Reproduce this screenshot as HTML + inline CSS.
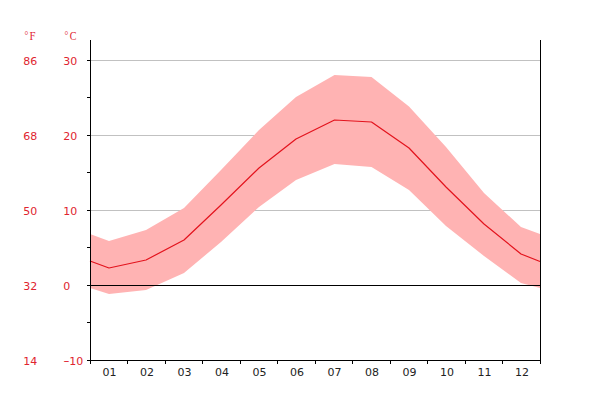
<!DOCTYPE html>
<html>
<head>
<meta charset="utf-8">
<title>Climate chart</title>
<style>
  html, body { margin: 0; padding: 0; background: #ffffff; }
  body { width: 600px; height: 400px; overflow: hidden; }
  svg { display: block; }
  .num { font-family: "DejaVu Sans", "Liberation Sans", sans-serif; font-size: 11px; }
  .hdr { font-family: "Liberation Serif", "DejaVu Serif", serif; font-size: 12px; }
  .red { fill: #e0242f; }
  .blk { fill: #222222; }
</style>
</head>
<body>
<svg width="600" height="400" viewBox="0 0 600 400">
  <rect x="0" y="0" width="600" height="400" fill="#ffffff"/>

  <!-- horizontal grid lines -->
  <g stroke="#c1c1c1" stroke-width="1" shape-rendering="crispEdges">
    <line x1="90" y1="60.5" x2="540" y2="60.5"/>
    <line x1="90" y1="135.5" x2="540" y2="135.5"/>
    <line x1="90" y1="210.5" x2="540" y2="210.5"/>
  </g>

  <!-- temperature range band -->
  <polygon fill="#ffb3b3" points="
    90,234 109,241 146,230 184,208 221,170 259,130 296,97 334.5,75 371.5,77 409,106.5 446,147 484,193 521,227 540,234
    540,288 521,283 484,256 446,226 409,190 371.5,167 334.5,164 296,180 259,207 221,242 184,273 146,290 109,294 90,288"/>

  <!-- mean temperature line -->
  <polyline fill="none" stroke="#e3131d" stroke-width="1.2" stroke-linejoin="round" points="
    90,261 109,268 146,260 184,240 221,205 259,168 296,139 334.5,120 371.5,122 409,148 446,187 484,224 521,254 540,261.5"/>

  <!-- axes -->
  <g stroke="#000000" stroke-width="1" fill="none" shape-rendering="crispEdges">
    <line x1="90.5" y1="40" x2="90.5" y2="361"/>
    <line x1="540.5" y1="40" x2="540.5" y2="361"/>
    <line x1="90" y1="360.5" x2="541" y2="360.5"/>
    <line x1="90" y1="285.5" x2="541" y2="285.5"/>
  </g>

  <!-- y ticks -->
  <g stroke="#000000" stroke-width="1" shape-rendering="crispEdges">
    <line x1="87" y1="60.5" x2="90" y2="60.5"/>
    <line x1="87" y1="97.5" x2="90" y2="97.5"/>
    <line x1="87" y1="135.5" x2="90" y2="135.5"/>
    <line x1="87" y1="172.5" x2="90" y2="172.5"/>
    <line x1="87" y1="210.5" x2="90" y2="210.5"/>
    <line x1="87" y1="247.5" x2="90" y2="247.5"/>
    <line x1="87" y1="285.5" x2="90" y2="285.5"/>
    <line x1="87" y1="322.5" x2="90" y2="322.5"/>
    <line x1="87" y1="360.5" x2="90" y2="360.5"/>
  </g>

  <!-- x ticks -->
  <g stroke="#000000" stroke-width="1" shape-rendering="crispEdges">
    <line x1="90.5" y1="361" x2="90.5" y2="364"/>
    <line x1="127.5" y1="361" x2="127.5" y2="364"/>
    <line x1="165.5" y1="361" x2="165.5" y2="364"/>
    <line x1="202.5" y1="361" x2="202.5" y2="364"/>
    <line x1="240.5" y1="361" x2="240.5" y2="364"/>
    <line x1="277.5" y1="361" x2="277.5" y2="364"/>
    <line x1="315.5" y1="361" x2="315.5" y2="364"/>
    <line x1="352.5" y1="361" x2="352.5" y2="364"/>
    <line x1="390.5" y1="361" x2="390.5" y2="364"/>
    <line x1="427.5" y1="361" x2="427.5" y2="364"/>
    <line x1="465.5" y1="361" x2="465.5" y2="364"/>
    <line x1="502.5" y1="361" x2="502.5" y2="364"/>
    <line x1="540.5" y1="361" x2="540.5" y2="364"/>
  </g>

  <!-- header labels -->
  <g class="hdr red">
    <text x="24.6" y="38.9" font-size="9.5">°</text>
    <text transform="translate(29.6 40) scale(0.9 1)">F</text>
    <text x="64.6" y="38.9" font-size="9.5">°</text>
    <text transform="translate(69.7 40) scale(0.84 1)">C</text>
  </g>

  <!-- Fahrenheit labels -->
  <g class="num red">
    <text x="23.3" y="65">86</text>
    <text x="23.3" y="140">68</text>
    <text x="23.3" y="215">50</text>
    <text x="23.3" y="290">32</text>
    <text x="23.3" y="365">14</text>
  </g>

  <!-- Celsius labels -->
  <g class="num red">
    <text x="63.3" y="65">30</text>
    <text x="63.3" y="140">20</text>
    <text x="63.3" y="215">10</text>
    <text x="63.3" y="290">0</text>
    <text transform="translate(63.3 364) scale(1.6 1)">-</text><text x="69.3" y="365">10</text>
  </g>

  <!-- month labels -->
  <g class="num blk" text-anchor="middle">
    <text x="109.5" y="376">01</text>
    <text x="147" y="376">02</text>
    <text x="184.5" y="376">03</text>
    <text x="222" y="376">04</text>
    <text x="259.5" y="376">05</text>
    <text x="297" y="376">06</text>
    <text x="334.5" y="376">07</text>
    <text x="372" y="376">08</text>
    <text x="409.5" y="376">09</text>
    <text x="447" y="376">10</text>
    <text x="484.5" y="376">11</text>
    <text x="522" y="376">12</text>
  </g>
</svg>
</body>
</html>
